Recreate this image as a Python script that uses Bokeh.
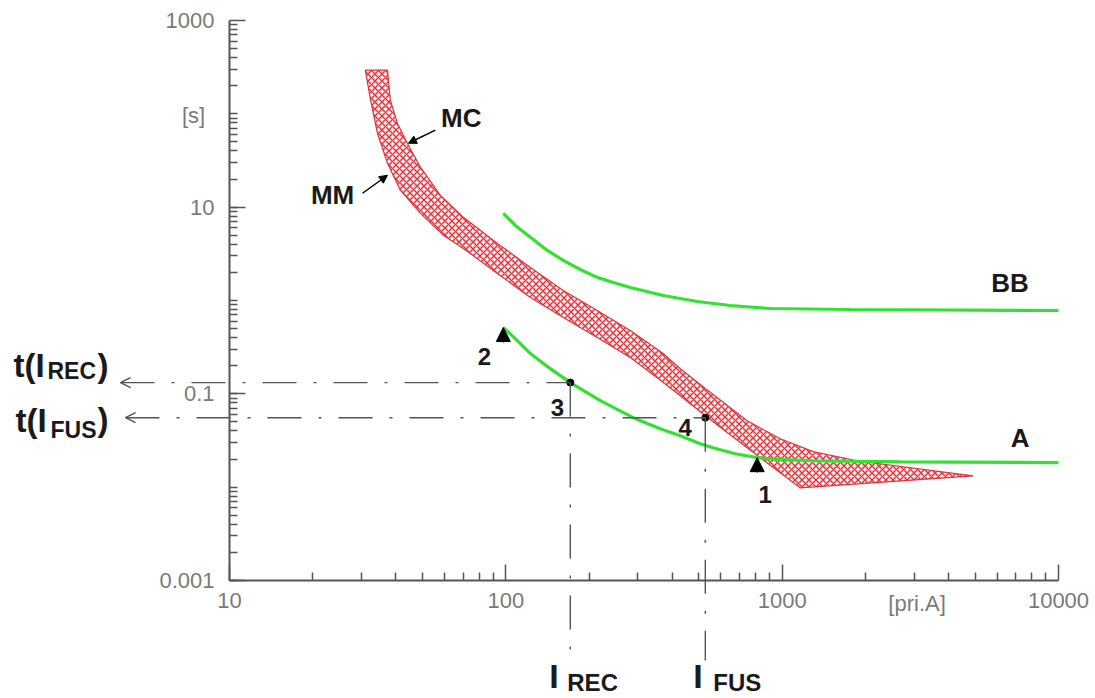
from bokeh.plotting import figure
from bokeh.models import (Range1d, FixedTicker, CustomJSTickFormatter, Label,
                          Arrow, OpenHead, NormalHead)
from bokeh.embed import file_html
from bokeh.resources import INLINE

# ---------------- data ----------------
# fuse band: maximum clearing (MC, upper/right edge) and minimum melting (MM, lower/left edge)
mc_current = [37.3, 38.2, 40.5, 44.0, 49.1, 57.9, 70.2, 93.2, 122.7, 161.4, 214.2,
              282, 371, 428, 527, 747, 984, 1294, 1867, 4906]
mc_time = [294, 140.2, 79.4, 48.4, 26.8, 13.4, 7.78, 4.09, 2.26, 1.28, 0.781,
           0.477, 0.270, 0.186, 0.114, 0.0515, 0.0330, 0.0240, 0.0192, 0.0132]
mm_current = [31.0, 32.4, 34.3, 37.3, 41.5, 49.1, 59.4, 70.2, 93.2, 122.7, 161.4,
              214.2, 282, 353, 428, 527, 747, 984, 1161]
mm_time = [294, 140.2, 62.0, 29.5, 15.2, 8.59, 4.99, 3.61, 1.95, 1.077, 0.657,
           0.401, 0.2445, 0.149, 0.0956, 0.0583, 0.0264, 0.0143, 0.00984]

# recloser curves
a_current = [97.9, 108.2, 122.7, 144.9, 171.1, 219.7, 289, 362, 428, 505, 562, 676,
             812, 1025, 1294, 2673, 10000]
a_time = [0.513, 0.391, 0.270, 0.186, 0.132, 0.0845, 0.0555, 0.0423, 0.0356, 0.0292,
          0.0264, 0.0228, 0.0207, 0.0197, 0.0192, 0.0187, 0.0183]
bb_current = [97.9, 108.2, 122.7, 141.3, 161.4, 185.9, 214.2, 244.8, 282, 371, 493,
              649, 905, 1762, 10000]
bb_time = [8.59, 6.38, 4.75, 3.44, 2.69, 2.15, 1.77, 1.56, 1.38, 1.13, 0.976,
           0.884, 0.821, 0.801, 0.781]

# coordination points
i_rec, t_rec = 171.1, 0.132
i_fus, t_fus = 527, 0.0555

x_lo, x_hi = 10, 10000
y_lo, y_hi = 0.001, 1000
x_ticks = [10, 100, 1000, 10000]
x_minor = [m * 10 ** k for k in (1, 2, 3) for m in range(2, 10)]
y_ticks = [0.001, 0.1, 10, 1000]
y_minor = [m * 10.0 ** k for k in range(-3, 3) for m in range(1, 10)]

# ---------------- layout ----------------
W, H = 1095, 698
AX_LEFT, AX_TOP = 229, 20          # pixel position of x=10 and y=1000
AX_W, AX_H = 829, 560              # pixel length of the two axes
PXD_X = AX_W / 3.0                 # pixels per decade
PXD_Y = AX_H / 6.0

x_range = Range1d(x_lo * 10 ** (-AX_LEFT / PXD_X), x_lo * 10 ** ((W - AX_LEFT) / PXD_X))
y_range = Range1d(y_lo * 10 ** (-(H - AX_TOP - AX_H) / PXD_Y), y_hi * 10 ** (AX_TOP / PXD_Y))

p = figure(width=W, height=H, x_axis_type="log", y_axis_type="log",
           x_range=x_range, y_range=y_range, min_border=0,
           output_backend="svg", toolbar_location=None)
p.outline_line_color = None
p.xgrid.visible = False
p.ygrid.visible = False
p.background_fill_color = "white"


def xshift(x, px):
    return x * 10 ** (px / PXD_X)


def ydown(y, px):
    return y * 10 ** (-px / PXD_Y)


FONT = "Liberation Sans"
GRAY = "#555555"
TICKGRAY = "#7a7a7a"

for ax in (p.xaxis[0], p.yaxis[0]):
    ax.axis_line_color = GRAY
    ax.axis_line_width = 2
    ax.major_tick_line_color = GRAY
    ax.major_tick_line_width = 1.5
    ax.minor_tick_line_color = GRAY
    ax.minor_tick_line_width = 1.5
    ax.major_tick_in = 16
    ax.major_tick_out = 0
    ax.minor_tick_in = 8
    ax.minor_tick_out = 0
    ax.major_label_text_font = FONT
    ax.major_label_text_font_size = "22px"
    ax.major_label_text_color = TICKGRAY
    ax.formatter = CustomJSTickFormatter(
        code="return tick >= 1 ? tick.toFixed(0) : Number(tick.toPrecision(2)).toString();")

p.xaxis[0].ticker = FixedTicker(ticks=x_ticks, minor_ticks=x_minor)
p.yaxis[0].ticker = FixedTicker(ticks=y_ticks, minor_ticks=y_minor)
p.xaxis[0].fixed_location = y_lo
p.yaxis[0].fixed_location = x_lo
p.xaxis[0].bounds = (x_lo, x_hi)
p.yaxis[0].bounds = (y_lo, y_hi)
p.xaxis[0].major_label_standoff = 12
p.yaxis[0].major_label_standoff = 15

# fuse band
p.patch(mc_current + mm_current[::-1], mc_time + mm_time[::-1],
        fill_color="#fff0f0", line_color="#e0323c", line_width=1.2,
        hatch_pattern="diagonal_cross", hatch_color="#e33540",
        hatch_scale=7, hatch_weight=1.5)

# recloser curves
GREEN = "#33e133"
p.line(a_current, a_time, line_color=GREEN, line_width=3.2)
p.line(bb_current, bb_time, line_color=GREEN, line_width=3.2)

# dash-dot guides
DASH = "34 17 3 17"
for t, i, left_px in ((t_rec, i_rec, 109), (t_fus, i_fus, 104)):
    p.add_layout(Arrow(x_start=xshift(x_lo, -left_px), y_start=t, x_end=i, y_end=t,
                       start=OpenHead(size=10, line_color=GRAY, line_width=1.5),
                       end=None, line_color=GRAY, line_width=1.4, line_dash=DASH))
for i, t, bottom_px in ((i_rec, t_rec, 70), (i_fus, t_fus, 80)):
    p.add_layout(Arrow(x_start=i, y_start=t, x_end=i, y_end=ydown(y_lo, bottom_px),
                       start=None, end=None, line_color=GRAY, line_width=1.4,
                       line_dash=DASH))

# points 3 and 4
p.scatter([i_rec, i_fus], [t_rec, t_fus], size=7, color="black")

# triangles 1 and 2
for idx in (12, 0):
    p.add_layout(Arrow(x_start=a_current[idx], y_start=ydown(a_time[idx], 15),
                       x_end=a_current[idx], y_end=a_time[idx],
                       end=NormalHead(size=14, fill_color="black", line_color="black"),
                       line_color="black", line_width=1))

# MC / MM pointers
p.add_layout(Arrow(x_start=55.6, y_start=66.8, x_end=44.4, y_end=48.4,
                   end=NormalHead(size=8, fill_color="black", line_color="black"),
                   line_color="black", line_width=1.5))
p.add_layout(Arrow(x_start=30.3, y_start=14.1, x_end=37.3, y_end=21.97,
                   end=NormalHead(size=8, fill_color="black", line_color="black"),
                   line_color="black", line_width=1.5))


def lab(text, x, y, size, bold=True, color="#1a1a1a", dx=0, dy=0,
        align="center", baseline="middle"):
    p.add_layout(Label(x=x, y=y, text=text, x_offset=dx, y_offset=dy,
                       text_font=FONT, text_font_size=f"{size}px",
                       text_font_style="bold" if bold else "normal",
                       text_color=color, text_align=align, text_baseline=baseline))


# curve labels
lab("MC", 69.0, 89.8, 26)
lab("MM", 23.6, 13.4, 26)
lab("BB", 6676, 1.523, 26)
lab("A", 7258, 0.0339, 26)
lab("1", 868, 0.00828, 24)
lab("2", 83.6, 0.2506, 24)
lab("3", 153.6, 0.0711, 24)
lab("4", 445.9, 0.0434, 24)

# axis unit labels
lab("[s]", 7.41, 96.8, 22, bold=False, color=TICKGRAY)
lab("[pri.A]", 3077, y_lo, 22, bold=False, color=TICKGRAY, dy=-23)

# t(I_REC), t(I_FUS) on the left
lab("t(I", x_lo, t_rec, 33, dx=-216, dy=17, align="left", baseline="alphabetic")
lab("REC", x_lo, t_rec, 23, dx=-182, dy=12, align="left", baseline="alphabetic")
lab(")", x_lo, t_rec, 33, dx=-132, dy=17, align="left", baseline="alphabetic")
lab("t(I", x_lo, t_fus, 33, dx=-214, dy=-3, align="left", baseline="alphabetic")
lab("FUS", x_lo, t_fus, 23, dx=-179, dy=-12, align="left", baseline="alphabetic")
lab(")", x_lo, t_fus, 33, dx=-132, dy=-2, align="left", baseline="alphabetic")

# I_REC, I_FUS below the axis
lab("I", i_rec, y_lo, 34, dx=-21, dy=-95, align="left", baseline="alphabetic")
lab("REC", i_rec, y_lo, 24, dx=-3, dy=-102, align="left", baseline="alphabetic")
lab("I", i_fus, y_lo, 34, dx=-12, dy=-95, align="left", baseline="alphabetic")
lab("FUS", i_fus, y_lo, 24, dx=8, dy=-102, align="left", baseline="alphabetic")

open("out.html", "w").write(file_html(p, INLINE))
